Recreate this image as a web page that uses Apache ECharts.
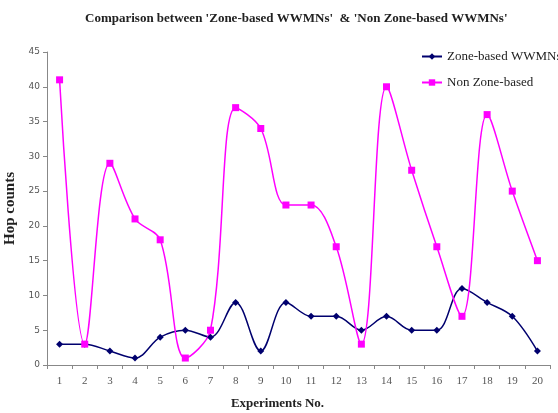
<!DOCTYPE html>
<html><head><meta charset="utf-8">
<script src="https://cdn.jsdelivr.net/npm/echarts@6/dist/echarts.min.js"></script>
<style>html,body{margin:0;padding:0;background:#fff}#c{width:558px;height:413px}</style>
</head><body><div id="c"></div>
<script>
const categories = ['1','2','3','4','5','6','7','8','9','10','11','12','13','14','15','16','17','18','19','20'];
const zoneBased = [3,3,2,1,4,5,4,9,2,9,7,7,5,7,5,5,11,9,7,2];
const nonZoneBased = [41,3,29,21,18,1,5,37,34,23,23,17,3,40,28,17,7,36,25,15];
const yTicks = [0,5,10,15,20,25,30,35,40,45];

const chart = echarts.init(document.getElementById('c'));
chart.setOption({
  animation: false,
  title: {
    text: "Comparison between 'Zone-based WWMNs'  & 'Non Zone-based WWMNs'",
    left: 80, top: 7,
    textStyle: {fontFamily: 'Liberation Serif', fontWeight: 'bold', fontSize: 13, color: '#222'}
  },
  legend: {
    orient: 'vertical', left: 416, top: 45, itemGap: 13,
    itemWidth: 20, itemHeight: 8,
    textStyle: {fontFamily: 'Liberation Serif', fontSize: 13, color: '#222'},
    data: ['Zone-based WWMNs', 'Non Zone-based']
  },
  grid: {left: 47, right: 8, top: 52, bottom: 48, outerBoundsMode: 'none', containLabel: false},
  xAxis: {
    type: 'category', data: categories, boundaryGap: true,
    name: 'Experiments No.', nameLocation: 'middle', nameGap: 32,
    nameTextStyle: {fontFamily: 'Liberation Serif', fontWeight: 'bold', fontSize: 13, color: '#222', padding: [0, 42, 0, 0]},
    axisLine: {lineStyle: {color: '#888'}},
    axisTick: {show: true, alignWithLabel: false, length: 4, lineStyle: {color: '#888'}},
    axisLabel: {fontFamily: 'Liberation Serif', fontSize: 11, color: '#555', margin: 11}
  },
  yAxis: {
    type: 'value', min: yTicks[0], max: yTicks[yTicks.length-1], interval: 5,
    name: 'Hop counts', nameLocation: 'middle', nameGap: 29,
    nameTextStyle: {fontFamily: 'Liberation Serif', fontWeight: 'bold', fontSize: 15, color: '#222'},
    axisLine: {show: true, lineStyle: {color: '#888'}},
    axisTick: {show: true, length: 4, lineStyle: {color: '#888'}},
    splitLine: {show: false},
    axisLabel: {fontFamily: 'DejaVu Sans', fontSize: 9, color: '#555', margin: 7}
  },
  series: [
    {
      name: 'Zone-based WWMNs', type: 'line', data: zoneBased, smooth: 0.35,
      symbol: 'diamond', symbolSize: 7,
      itemStyle: {color: '#00006e'}, lineStyle: {color: '#00006e', width: 1.5}
    },
    {
      name: 'Non Zone-based', type: 'line', data: nonZoneBased, smooth: 0.35,
      symbol: 'rect', symbolSize: 7,
      itemStyle: {color: '#ff00ff'}, lineStyle: {color: '#ff00ff', width: 1.5}
    }
  ]
});
</script></body></html>
